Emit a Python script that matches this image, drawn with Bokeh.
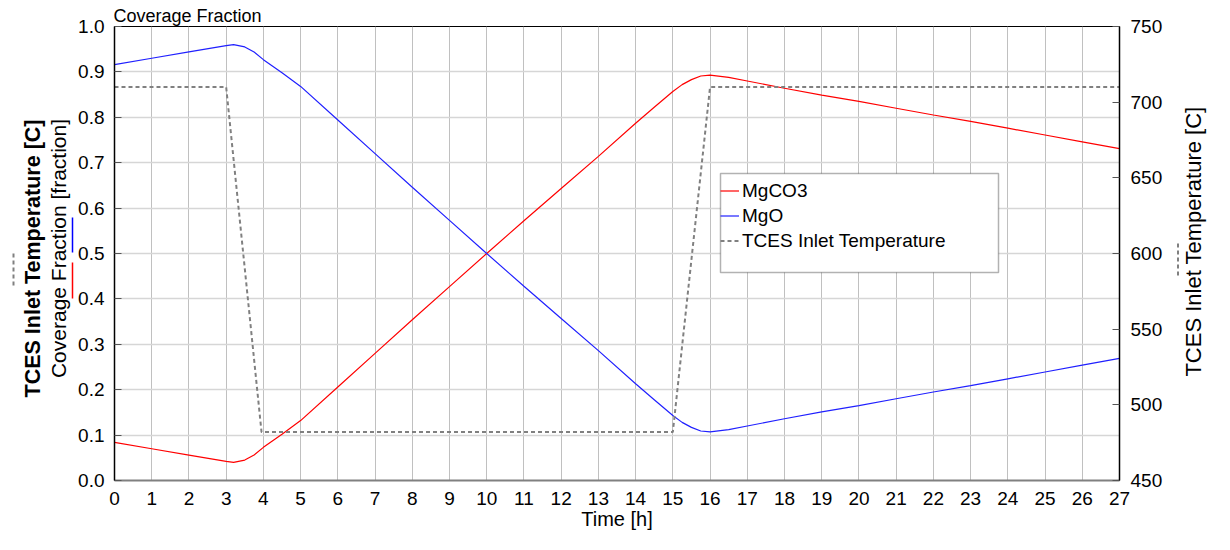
import math
from bokeh.plotting import figure
from bokeh.layouts import row
from bokeh.core.properties import value
from bokeh.models import (Range1d, LinearAxis, SingleIntervalTicker, PrintfTickFormatter,
                          Legend, LegendItem, BoxAnnotation)
from bokeh.embed import file_html
from bokeh.resources import INLINE

# ---- data ----
time_h = [0, 1, 2, 3, 3.2, 3.5, 3.75, 4, 4.5, 5, 6, 7, 8, 9, 10, 11, 12, 13, 14, 14.5, 15,
          15.25, 15.5, 15.75, 16, 16.5, 17, 18, 19, 20, 21, 22, 23, 24, 25, 26, 27]
mgo = [0.916, 0.930, 0.944, 0.958, 0.960, 0.955, 0.944, 0.927, 0.898, 0.868, 0.794, 0.720,
       0.646, 0.573, 0.500, 0.428, 0.357, 0.286, 0.213, 0.178, 0.143, 0.128, 0.117, 0.109,
       0.107, 0.112, 0.120, 0.136, 0.151, 0.165, 0.180, 0.195, 0.209, 0.224, 0.239, 0.254, 0.269]
mgco3 = [0.084, 0.070, 0.056, 0.042, 0.040, 0.045, 0.056, 0.073, 0.102, 0.132, 0.206, 0.280,
         0.354, 0.427, 0.500, 0.572, 0.643, 0.714, 0.787, 0.822, 0.857, 0.872, 0.883, 0.891,
         0.893, 0.888, 0.880, 0.864, 0.849, 0.835, 0.820, 0.805, 0.791, 0.776, 0.761, 0.746, 0.731]
temp_time = [0, 3.0, 3.95, 15.0, 16.0, 27]
temp_c = [710, 710, 482, 482, 710, 710]

series_names = ["MgCO3", "MgO", "TCES Inlet Temperature"]
left_title = "Coverage Fraction [fraction]"
temp_title = "TCES Inlet Temperature [C]"

FONT = "Liberation Sans"
H = 534
TOP, BOTTOM = 26, 480          # frame top / bottom in page pixels
LW, MW, RW = 75, 1090, 49


def side_fig(w):
    # strip whose frame is aligned with the main frame; y in page pixels measured from bottom
    f = figure(width=w, height=H, output_backend="svg", toolbar_location=None,
               x_range=Range1d(0, w), y_range=Range1d(H - BOTTOM, H - TOP),
               x_axis_type=None, y_axis_type=None,
               min_border_left=0, min_border_right=0,
               min_border_top=TOP, min_border_bottom=H - BOTTOM)
    f.outline_line_color = None
    f.background_fill_color = "white"
    f.border_fill_color = "white"
    return f


# ---------------- main chart ----------------
p = figure(width=MW, height=H, output_backend="svg", toolbar_location=None,
           x_range=Range1d(0, 27), y_range=Range1d(0, 1),
           min_border_left=113 - LW, min_border_right=46,
           min_border_top=TOP, min_border_bottom=H - BOTTOM)
p.extra_y_ranges = {"temp": Range1d(450, 750)}

p.title.text = "Coverage Fraction"
p.title.text_font = FONT
p.title.text_font_size = "18px"
p.title.text_font_style = "normal"
p.title.text_color = "black"
p.title.align = "left"
p.title.offset = -1
p.title.standoff = 1

p.outline_line_color = "black"
p.outline_line_width = 1
p.background_fill_color = "white"
p.border_fill_color = "white"

p.xgrid.ticker = SingleIntervalTicker(interval=1)
p.ygrid.ticker = SingleIntervalTicker(interval=0.1)
p.xgrid.grid_line_color = "#c0c0c0"
p.xgrid.grid_line_width = 1
p.ygrid.grid_line_color = "#d6d6d6"
p.ygrid.grid_line_width = 1.5

xa = p.xaxis[0]
xa.ticker = SingleIntervalTicker(interval=1)
xa.major_label_text_font = FONT
xa.major_label_text_font_size = "19px"
xa.major_label_text_color = "black"
xa.major_label_standoff = 7
xa.major_tick_line_color = None
xa.major_tick_out = 0
xa.minor_tick_line_color = None
xa.axis_line_color = "#808080"
xa.axis_line_width = 2
xa.axis_label = "Time [h]"
xa.axis_label_text_font = FONT
xa.axis_label_text_font_size = "20px"
xa.axis_label_text_font_style = "normal"
xa.axis_label_text_color = "black"
xa.axis_label_standoff = 0

ya = p.yaxis[0]
ya.ticker = SingleIntervalTicker(interval=0.1)
ya.formatter = PrintfTickFormatter(format="%.1f")
ya.major_label_text_font = FONT
ya.major_label_text_font_size = "19px"
ya.major_label_text_color = "black"
ya.major_label_standoff = 6
ya.major_tick_in = 7
ya.major_tick_out = 0
ya.major_tick_line_color = "#555555"
ya.minor_tick_line_color = None
ya.axis_line_color = "black"
ya.axis_line_width = 1.5

ra = LinearAxis(y_range_name="temp", ticker=SingleIntervalTicker(interval=50))
ra.major_label_text_font = FONT
ra.major_label_text_font_size = "19px"
ra.major_label_text_color = "black"
ra.major_label_standoff = 7
ra.major_tick_in = 7
ra.major_tick_out = 0
ra.major_tick_line_color = "#555555"
ra.minor_tick_line_color = None
ra.axis_line_color = "black"
ra.axis_line_width = 1.5
p.add_layout(ra, "right")

r_co3 = p.line(time_h, mgco3, line_color="#ff0000", line_width=1.2)
r_mgo = p.line(time_h, mgo, line_color="#2020ff", line_width=1.2)
r_tmp = p.line(temp_time, temp_c, y_range_name="temp", line_color="#808080",
               line_width=2, line_dash="4 3")

box = BoxAnnotation(left=606, right=884, bottom=208, top=307,
                    left_units="screen", right_units="screen",
                    bottom_units="screen", top_units="screen",
                    fill_color="white", fill_alpha=1, line_color="black", line_width=1.5)
p.add_layout(box)
legend = Legend(items=[LegendItem(label=series_names[0], renderers=[r_co3]),
                       LegendItem(label=series_names[1], renderers=[r_mgo]),
                       LegendItem(label=series_names[2], renderers=[r_tmp])],
                location=(606, 227), padding=0, margin=0, spacing=0,
                border_line_color=None, background_fill_alpha=0,
                label_text_font=FONT, label_text_font_size="19px", label_text_color="black",
                glyph_width=19, glyph_height=25, label_height=25, label_standoff=3)
p.add_layout(legend)

# ---------------- left strip: axis titles with series keys ----------------
pl = side_fig(LW)
pl.text(x=[32], y=[H - 258], text=[temp_title], angle=math.pi / 2,
        text_align="center", text_baseline="middle", text_font=value(FONT),
        text_font_size="21.5px", text_font_style="bold", text_color="black")
pl.text(x=[58], y=[H - 248], text=[left_title], angle=math.pi / 2,
        text_align="center", text_baseline="middle", text_font=value(FONT),
        text_font_size="21px", text_color="black")
pl.segment(x0=[72], y0=[H - 252], x1=[72], y1=[H - 217], line_color="#0000ff", line_width=1.5)
pl.segment(x0=[72], y0=[H - 298], x1=[72], y1=[H - 262], line_color="#ff0000", line_width=1.5)
pl.segment(x0=[13], y0=[H - 285], x1=[13], y1=[H - 253], line_color="#808080",
           line_width=2, line_dash="4 3")

# ---------------- right strip: temperature axis title ----------------
pr = side_fig(RW)
pr.segment(x0=[12.5], y0=[H - 275], x1=[12.5], y1=[H - 240], line_color="#808080",
           line_width=2, line_dash="4 3")
pr.text(x=[28], y=[H - 241], text=[temp_title], angle=math.pi / 2,
        text_align="center", text_baseline="middle", text_font=value(FONT),
        text_font_size="22px", text_color="black")

layout = row(pl, p, pr, spacing=0)
open("out.html", "w").write(file_html(layout, INLINE))
